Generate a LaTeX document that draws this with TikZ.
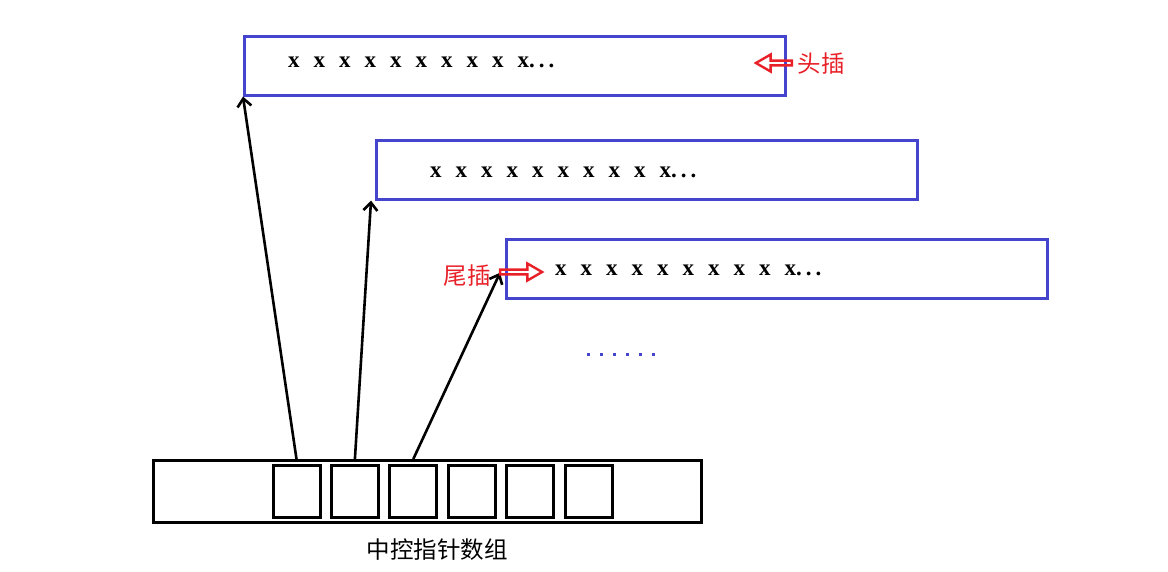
\documentclass[tikz,border=0pt]{standalone}
\usepackage{fontspec}
\newfontfamily\cjk{Noto Sans CJK SC}
\newfontfamily\xfont{Liberation Serif}
\usetikzlibrary{shapes,arrows.meta}
\definecolor{boxblue}{RGB}{68,68,204}
\definecolor{insred}{RGB}{232,32,40}
\newcommand\xdots{.\kern4pt.\kern4pt.}
\begin{document}
\begin{tikzpicture}[x=1pt,y=-1pt]
        \tikzstyle{listbox}=[rectangle,draw=boxblue,line width=2.6pt,minimum width=541pt,minimum height=59pt,anchor=north west,inner sep=0pt]
        \tikzstyle{xrow}=[anchor=west,inner sep=0pt,font={\xfont\bfseries\fontsize{23}{23}\selectfont\spaceskip 14pt\relax}]
        \tikzstyle{cell}=[rectangle,draw,line width=3pt,minimum width=47pt,minimum height=52pt,inner sep=0pt]
        \tikzstyle{ptr}=[line width=2.6pt,-{Straight Barb[length=8pt,width=14pt]}]
        \tikzstyle{insarrow}=[single arrow,draw=insred,line width=2.4pt,minimum height=36pt,minimum width=17pt,single arrow head extend=3pt,single arrow head indent=0pt,single arrow tip angle=60,inner sep=0pt]
        \tikzstyle{cn}=[font=\cjk\fontsize{23.5}{23.5}\selectfont,inner sep=0pt]
        \useasboundingbox (0,0) rectangle (1168,571);
        \node[listbox] (l1) at (243,35) {};
        \node[listbox] (l2) at (375,139) {};
        \node[listbox] (l3) at (505,238) {};
        \node[xrow] (r1) at (288,62) {x x x x x x x x x x\xdots};
        \node[xrow] (r2) at (430,172) {x x x x x x x x x x\xdots};
        \node[xrow] (r3) at (555,270) {x x x x x x x x x x\xdots};
        \foreach \i in {0,...,5}
            \fill[boxblue] ({586.5+13*\i},352.5) rectangle +(3,3);
        \node[draw,line width=3pt,minimum width=548pt,minimum height=62pt,anchor=north west,inner sep=0pt] (arr) at (152,459) {};
        \foreach \i in {1,...,6}
            \node[cell] (c\i) at ({296.5+58.4*(\i-1)},491.5) {};
        \node[cn] (cap) at (437,550) {中控指针数组};
        \draw[ptr] (c1 |- arr.north) -- (l1.south west);
        \draw[ptr] (c2 |- arr.north) -- ([xshift=-4pt]l2.south west);
        \draw[ptr] (c3 |- arr.north) -- ([xshift=-5pt,yshift=-4pt]l3.west);
        \node[insarrow,shape border rotate=180] (ha) at (776,63) {};
        \node[insarrow,minimum height=42pt] (ta) at (519,272) {};
        \node[cn,text=insred] (hl) at (821,64) {头插};
        \node[cn,text=insred] (tl) at (467,276) {尾插};
\end{tikzpicture}
\end{document}
